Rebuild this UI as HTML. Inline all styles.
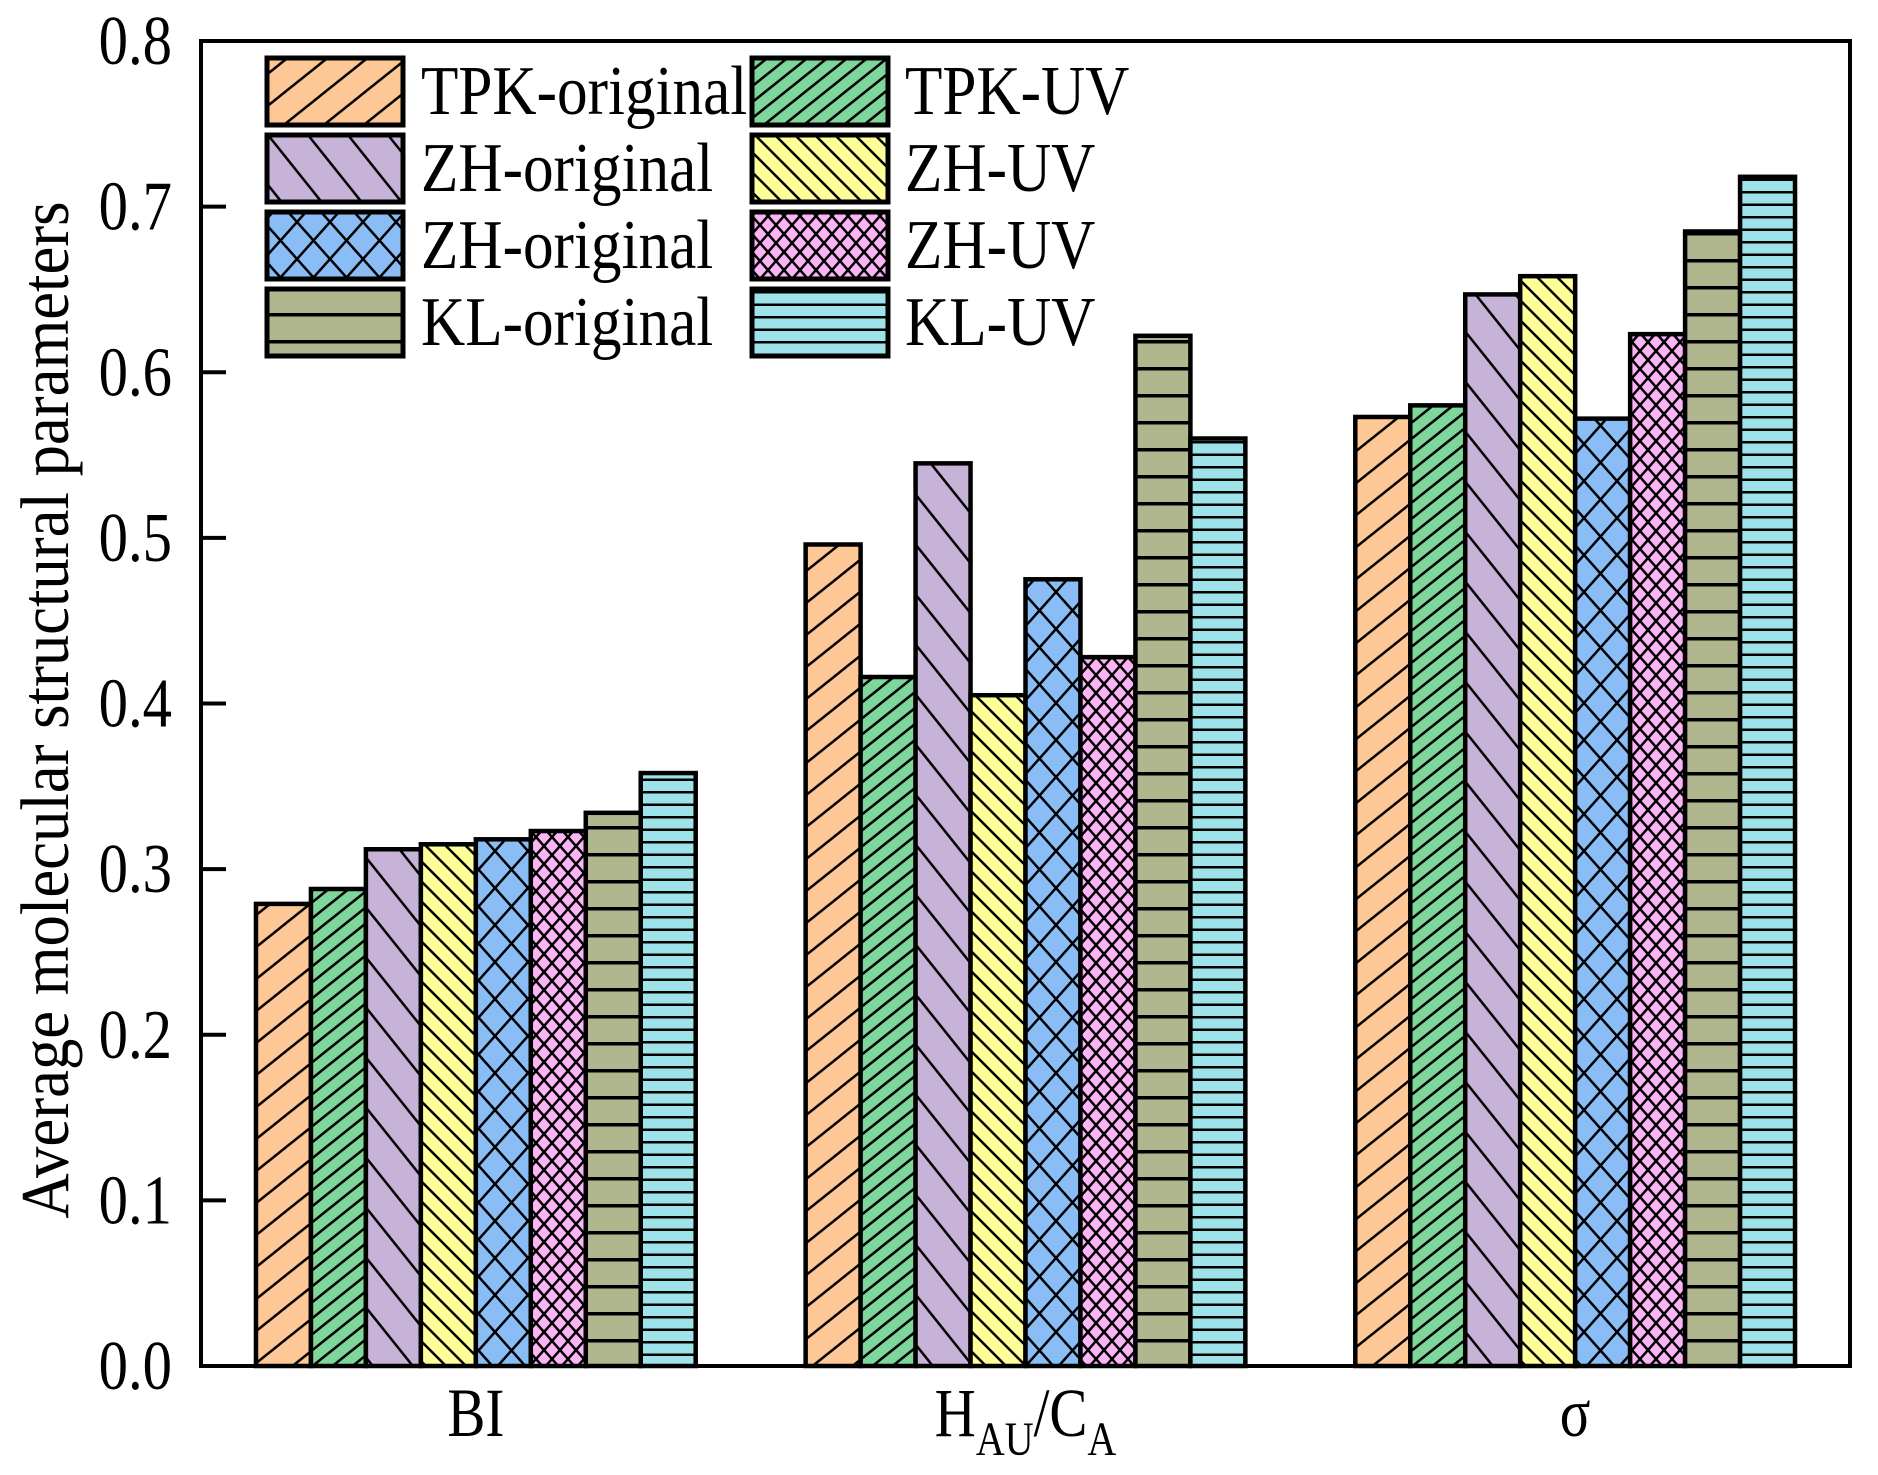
<!DOCTYPE html>
<html><head><meta charset="utf-8"><style>
html,body{margin:0;padding:0;background:#fff}
svg{display:block;font-family:"Liberation Serif",serif}
</style></head><body>
<svg id="chart" width="1878" height="1475" viewBox="0 0 1878 1475" xmlns="http://www.w3.org/2000/svg">
<defs>
<pattern id="p0" patternUnits="userSpaceOnUse" width="40" height="32"><rect width="40" height="32" fill="#FDC896"/><path d="M-5,36 L45,-4" stroke="#000" stroke-width="2.5"/><path d="M35,36 L85,-4" stroke="#000" stroke-width="2.5"/><path d="M-45,36 L5,-4" stroke="#000" stroke-width="2.5"/></pattern>
<pattern id="p1" patternUnits="userSpaceOnUse" width="20" height="16"><rect width="20" height="16" fill="#7FD69B"/><path d="M-5,20 L25,-4" stroke="#000" stroke-width="2.5"/><path d="M15,20 L45,-4" stroke="#000" stroke-width="2.5"/><path d="M-25,20 L5,-4" stroke="#000" stroke-width="2.5"/></pattern>
<pattern id="p2" patternUnits="userSpaceOnUse" width="40" height="50"><rect width="40" height="50" fill="#C8B3D8"/><path d="M-4,-5 L44,55" stroke="#000" stroke-width="2.5"/><path d="M-44,-5 L4,55" stroke="#000" stroke-width="2.5"/><path d="M36,-5 L84,55" stroke="#000" stroke-width="2.5"/></pattern>
<pattern id="p3" patternUnits="userSpaceOnUse" width="20" height="20"><rect width="20" height="20" fill="#FFFF99"/><path d="M-4,-4 L24,24" stroke="#000" stroke-width="2.5"/><path d="M-24,-4 L4,24" stroke="#000" stroke-width="2.5"/><path d="M16,-4 L44,24" stroke="#000" stroke-width="2.5"/></pattern>
<pattern id="p4" patternUnits="userSpaceOnUse" width="33" height="37"><rect width="33" height="37" fill="#8ABCF5"/><path d="M0,0 L33,37 M33,0 L0,37" stroke="#000" stroke-width="2.5"/></pattern>
<pattern id="p5" patternUnits="userSpaceOnUse" width="16" height="18"><rect width="16" height="18" fill="#FBB5F5"/><path d="M0,0 L16,18 M16,0 L0,18" stroke="#000" stroke-width="2.5"/></pattern>
<pattern id="p6" patternUnits="userSpaceOnUse" width="10" height="27" y="1366"><rect width="10" height="27" fill="#B0B78F"/><rect y="0" width="10" height="3.5" fill="#000"/></pattern>
<pattern id="p7" patternUnits="userSpaceOnUse" width="10" height="12.5" y="1366"><rect width="10" height="12.5" fill="#9EE3EA"/><rect y="0" width="10" height="2.5" fill="#000"/></pattern>
</defs>
<g id="bars"></g>
<g id="axes"></g>
<g id="legend"></g>
</svg>
<script>
const categories = ["BI", "HAU/CA", "σ"];
const seriesNames = ["TPK-original","TPK-UV","ZH-original","ZH-UV","ZH-original","ZH-UV","KL-original","KL-UV"];
const s0 = [0.279, 0.496, 0.573];
const s1 = [0.288, 0.416, 0.580];
const s2 = [0.312, 0.545, 0.647];
const s3 = [0.315, 0.405, 0.658];
const s4 = [0.318, 0.475, 0.572];
const s5 = [0.323, 0.428, 0.623];
const s6 = [0.334, 0.622, 0.685];
const s7 = [0.358, 0.560, 0.718];
const yTicks = ["0.0","0.1","0.2","0.3","0.4","0.5","0.6","0.7","0.8"];

const NS="http://www.w3.org/2000/svg";
const L=201,R=1850,T=41,B=1366,YMAX=0.8;
const series=[s0,s1,s2,s3,s4,s5,s6,s7];
function y(v){return B-(v/YMAX)*(B-T);}
const band=(R-L)/categories.length;
const bw=band*0.8/series.length;
function x(ci,si){return L+band*ci+band*0.1+bw*si;}
function mk(tag,attrs,parent){const e=document.createElementNS(NS,tag);for(const k in attrs)e.setAttribute(k,attrs[k]);parent.appendChild(e);return e;}
const gb=document.getElementById('bars');
series.forEach((s,si)=>{s.forEach((v,ci)=>{
  const r=mk('rect',{x:x(ci,si),y:y(v),width:bw,height:B-y(v),fill:'url(#p'+si+')',stroke:'#000','stroke-width':4.5},gb);
  
  
});});
const ga=document.getElementById('axes');
const frame=mk('rect',{x:L,y:T,width:R-L,height:B-T,fill:'none',stroke:'#000','stroke-width':4},ga);


yTicks.forEach((t,i)=>{
  const v=parseFloat(t);
  const ln=mk('line',{x1:L,x2:L+25,y1:y(v),y2:y(v),stroke:'#000','stroke-width':4},ga);
  
  
  const tx=mk('text',{x:0,y:0,'text-anchor':'end','font-size':57,transform:'translate(172,'+(y(v)+23)+') scale(1.03,1.22)'},ga);
  tx.textContent=t;
  
  
});
categories.forEach((c,ci)=>{
  const cx=L+band*(ci+0.5);
  const tx=mk('text',{x:0,y:0,'text-anchor':'middle','font-size':57,transform:'translate('+cx+',1436) scale(1,1.2)'},ga);
  
  
  if(c==="HAU/CA"){
    tx.innerHTML='H<tspan font-size="40" dy="16">AU</tspan><tspan dy="-16">/C</tspan><tspan font-size="40" dy="16">A</tspan>';
  } else tx.textContent=c;
});
const yt=mk('text',{x:0,y:0,'text-anchor':'middle','font-size':57,transform:'translate(68,710) rotate(-90) scale(1.1,1.2)'},ga);
yt.textContent='Average molecular structural parameters';


const gl=document.getElementById('legend');
seriesNames.forEach((n,i)=>{
  const col=i%2,row=Math.floor(i/2);
  const bx=col?752:267,by=58+row*77;
  const r=mk('rect',{x:bx,y:by,width:136,height:67,fill:'url(#p'+i+')',stroke:'#000','stroke-width':5},gl);
  
  
  const t=mk('text',{x:0,y:0,'font-size':60,transform:'translate('+(col?905:421)+','+(by+56)+') scale(1.02,1.17)'},gl);
  t.textContent=n;
  
  
});
</script>
</body></html>
